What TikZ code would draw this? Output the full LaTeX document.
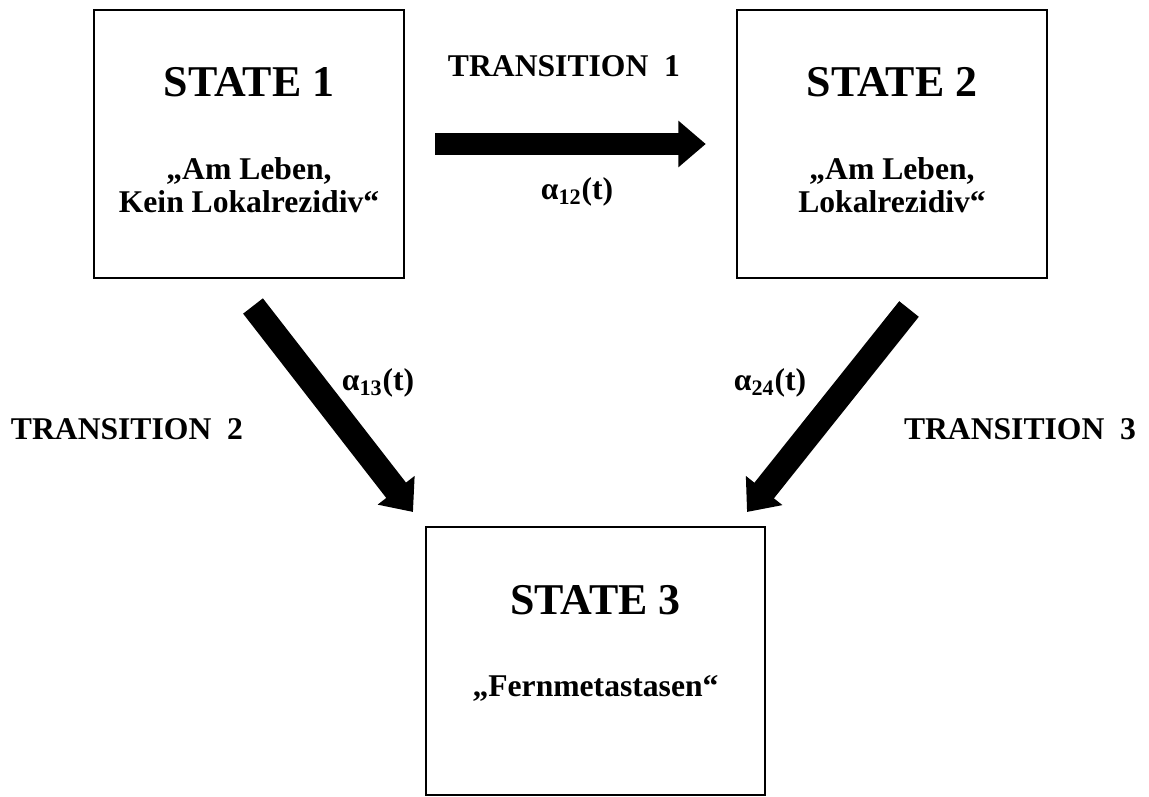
\documentclass[tikz,border=0pt]{standalone}
\usepackage{fontspec}
\setmainfont{Liberation Serif}
\usetikzlibrary{arrows.meta}

\tikzset{
  statebox/.style={draw=black, line width=1.4pt, minimum width=6.2cm, minimum height=5.36cm, inner sep=0pt},
  statetitle/.style={font=\bfseries\fontsize{25}{29}\selectfont},
  statetext/.style={font=\bfseries\fontsize{18}{19}\selectfont, align=center},
  translabel/.style={font=\bfseries\fontsize{18}{21}\selectfont},
  bigarrow/.style={line width=0.44cm, -{Triangle[width=0.9cm,length=0.55cm]}}
}

\begin{document}
\begin{tikzpicture}
\useasboundingbox (0,0) rectangle (22.98,15.92);

% states
\node[statebox] (s1) at (4.98,13.04) {};
\node[statebox] (s2) at (17.84,13.04) {};
\node[statebox, minimum width=6.78cm] (s3) at (11.91,2.70) {};

\node[statetitle] (t1) at (4.98,14.28) {STATE 1};
\node[statetext] (d1) at (4.98,12.22) {„Am Leben,\\Kein Lokalrezidiv“};
\node[statetitle] (t2) at (17.84,14.28) {STATE 2};
\node[statetext] (d2) at (17.84,12.22) {„Am Leben,\\Lokalrezidiv“};
\node[statetitle] (t3) at (11.91,3.92) {STATE 3};
\node[statetext] (d3) at (11.91,2.16) {„Fernmetastasen“};

% transitions
\coordinate (a13s) at (5.06,9.80);
\coordinate (a13e) at (8.26,5.68);
\coordinate (a24s) at (18.18,9.74);
\coordinate (a24e) at (14.94,5.68);

\draw[bigarrow, shorten <=0.6cm, shorten >=0.6cm] (s1.east) -- (s2.west);
\draw[bigarrow, line width=0.5cm] (a13s) -- (a13e);
\draw[bigarrow, line width=0.5cm] (a24s) -- (a24e);

\node[translabel] (tr1) at (11.28,14.60) {TRANSITION\ \ 1};
\node[translabel] (tr2) at (2.54,7.34) {TRANSITION\ \ 2};
\node[translabel] (tr3) at (20.40,7.34) {TRANSITION\ \ 3};
\node[translabel] (al12) at (11.54,12.08) {α\textsubscript{12}(t)};
\node[translabel] (al13) at (7.56,8.26) {α\textsubscript{13}(t)};
\node[translabel] (al24) at (15.40,8.26) {α\textsubscript{24}(t)};
\end{tikzpicture}
\end{document}
